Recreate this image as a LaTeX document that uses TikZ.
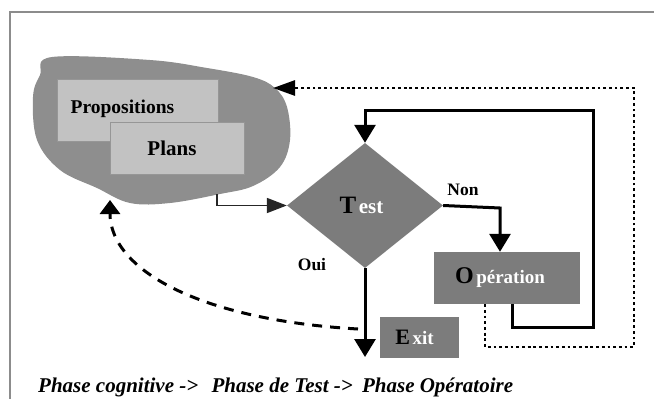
\documentclass[tikz,border=0pt]{standalone}
\usepackage{fontspec}
\setmainfont{Liberation Serif}
\usetikzlibrary{arrows.meta,shapes.geometric}
\definecolor{blobgray}{RGB}{142,142,142}
\definecolor{boxgray}{RGB}{194,194,194}
\definecolor{boxedge}{RGB}{150,150,150}
\definecolor{darkbox}{RGB}{124,124,124}
\definecolor{framegray}{RGB}{140,140,140}
\newcommand{\fs}[1]{\fontsize{#1}{#1}\selectfont}
\tikzset{
  lightbox/.style={draw=boxedge, line width=1pt, fill=boxgray, inner sep=0pt, text=black, font=\bfseries},
  darkrect/.style={fill=darkbox, inner sep=0pt, font=\bfseries},
  solidarrow/.style={line width=3pt, -{Triangle[length=18pt,width=21pt]}},
  thinarrow/.style={line width=1.8pt, draw=black!85, -{Triangle[length=20pt,width=15pt]}},
  dottedarrow/.style={line width=2.8pt, dash pattern=on 2.8pt off 2.9pt, -{Triangle[length=22pt,width=15pt]}},
  dashedarrow/.style={line width=3pt, dash pattern=on 10pt off 8pt, -{Triangle[length=14pt,width=20pt]}},
  lbl/.style={font=\bfseries\fs{17.5}, inner sep=0pt, text=black},
}
\begin{document}
\begin{tikzpicture}[x=1pt,y=-1pt]
\useasboundingbox (0,0) rectangle (654,399);
% frame
\draw[framegray, line width=1.5pt] (10,399) -- (10,12) -- (654,12);
% blob
\fill[blobgray] plot[smooth cycle, tension=0.6] coordinates {
  (52,57) (150,60) (207,68) (253,77) (275,88) (287,107) (290,140)
  (280,167) (253,186) (220,194) (170,203) (130,203) (97,188) (60,170)
  (37,140) (33,97) (40,75)};
\coordinate (blobR) at (273,88);
\coordinate (blobB) at (110,200);
\coordinate (plansout) at (217,194);
% boxes
\node[lightbox, minimum width=161pt, minimum height=62pt, font=\bfseries\fs{19.5}] (props) at (137.5,110) {\raisebox{7pt}{Propositions}\hspace*{30pt}};
\node[lightbox, minimum width=134pt, minimum height=52pt, font=\bfseries\fs{21}] (plans) at (177,148) {Plans\hspace*{10pt}};
\node[diamond, fill=darkbox, minimum width=156pt, minimum height=125pt, inner sep=0pt] (test) at (365,205.5) {\bfseries{\fs{25}T} {\fs{21}\color{white}est}\hspace*{7pt}};
\node[darkrect, minimum width=146pt, minimum height=52pt] (oper) at (507,278) {{\fs{24}O} {\fs{19}\color{white}pération}\hspace*{14pt}};
\node[darkrect, minimum width=79pt, minimum height=41pt] (exit) at (419.5,337.5) {{\fs{22}E} {\fs{19}\color{white}xit}\hspace*{10pt}};
% labels
\node[lbl] (non) at (463,190) {Non};
\node[lbl] (oui) at (312,265) {Oui};
% connectors
\draw[thinarrow] (plansout) |- (test.west);
\draw[solidarrow] (oper.south -| 512,0) -- (512,327) -- (593,327) -- (593,110) -- (365,110) -- (test.north);
\draw[solidarrow] (test.east) -- (500,208) -- (oper.north -| 500,0);
\draw[solidarrow] (test.south) -- (365,357) coordinate (downend);
\coordinate (dstart) at (358,329);
\draw[dottedarrow] (oper.south -| 485,0) -- (485,347) -- (634,347) -- (634,88) -- (blobR);
\draw[dashedarrow] (dstart) .. controls (200,320) and (110,270) .. (blobB);
% caption
\node[font=\bfseries\itshape\fs{21}, anchor=base west, inner sep=0pt] (caption) at (38,392) {Phase cognitive ->\hspace{8pt} Phase de Test ->\hspace{4pt} Phase Opératoire};
\end{tikzpicture}
\end{document}
